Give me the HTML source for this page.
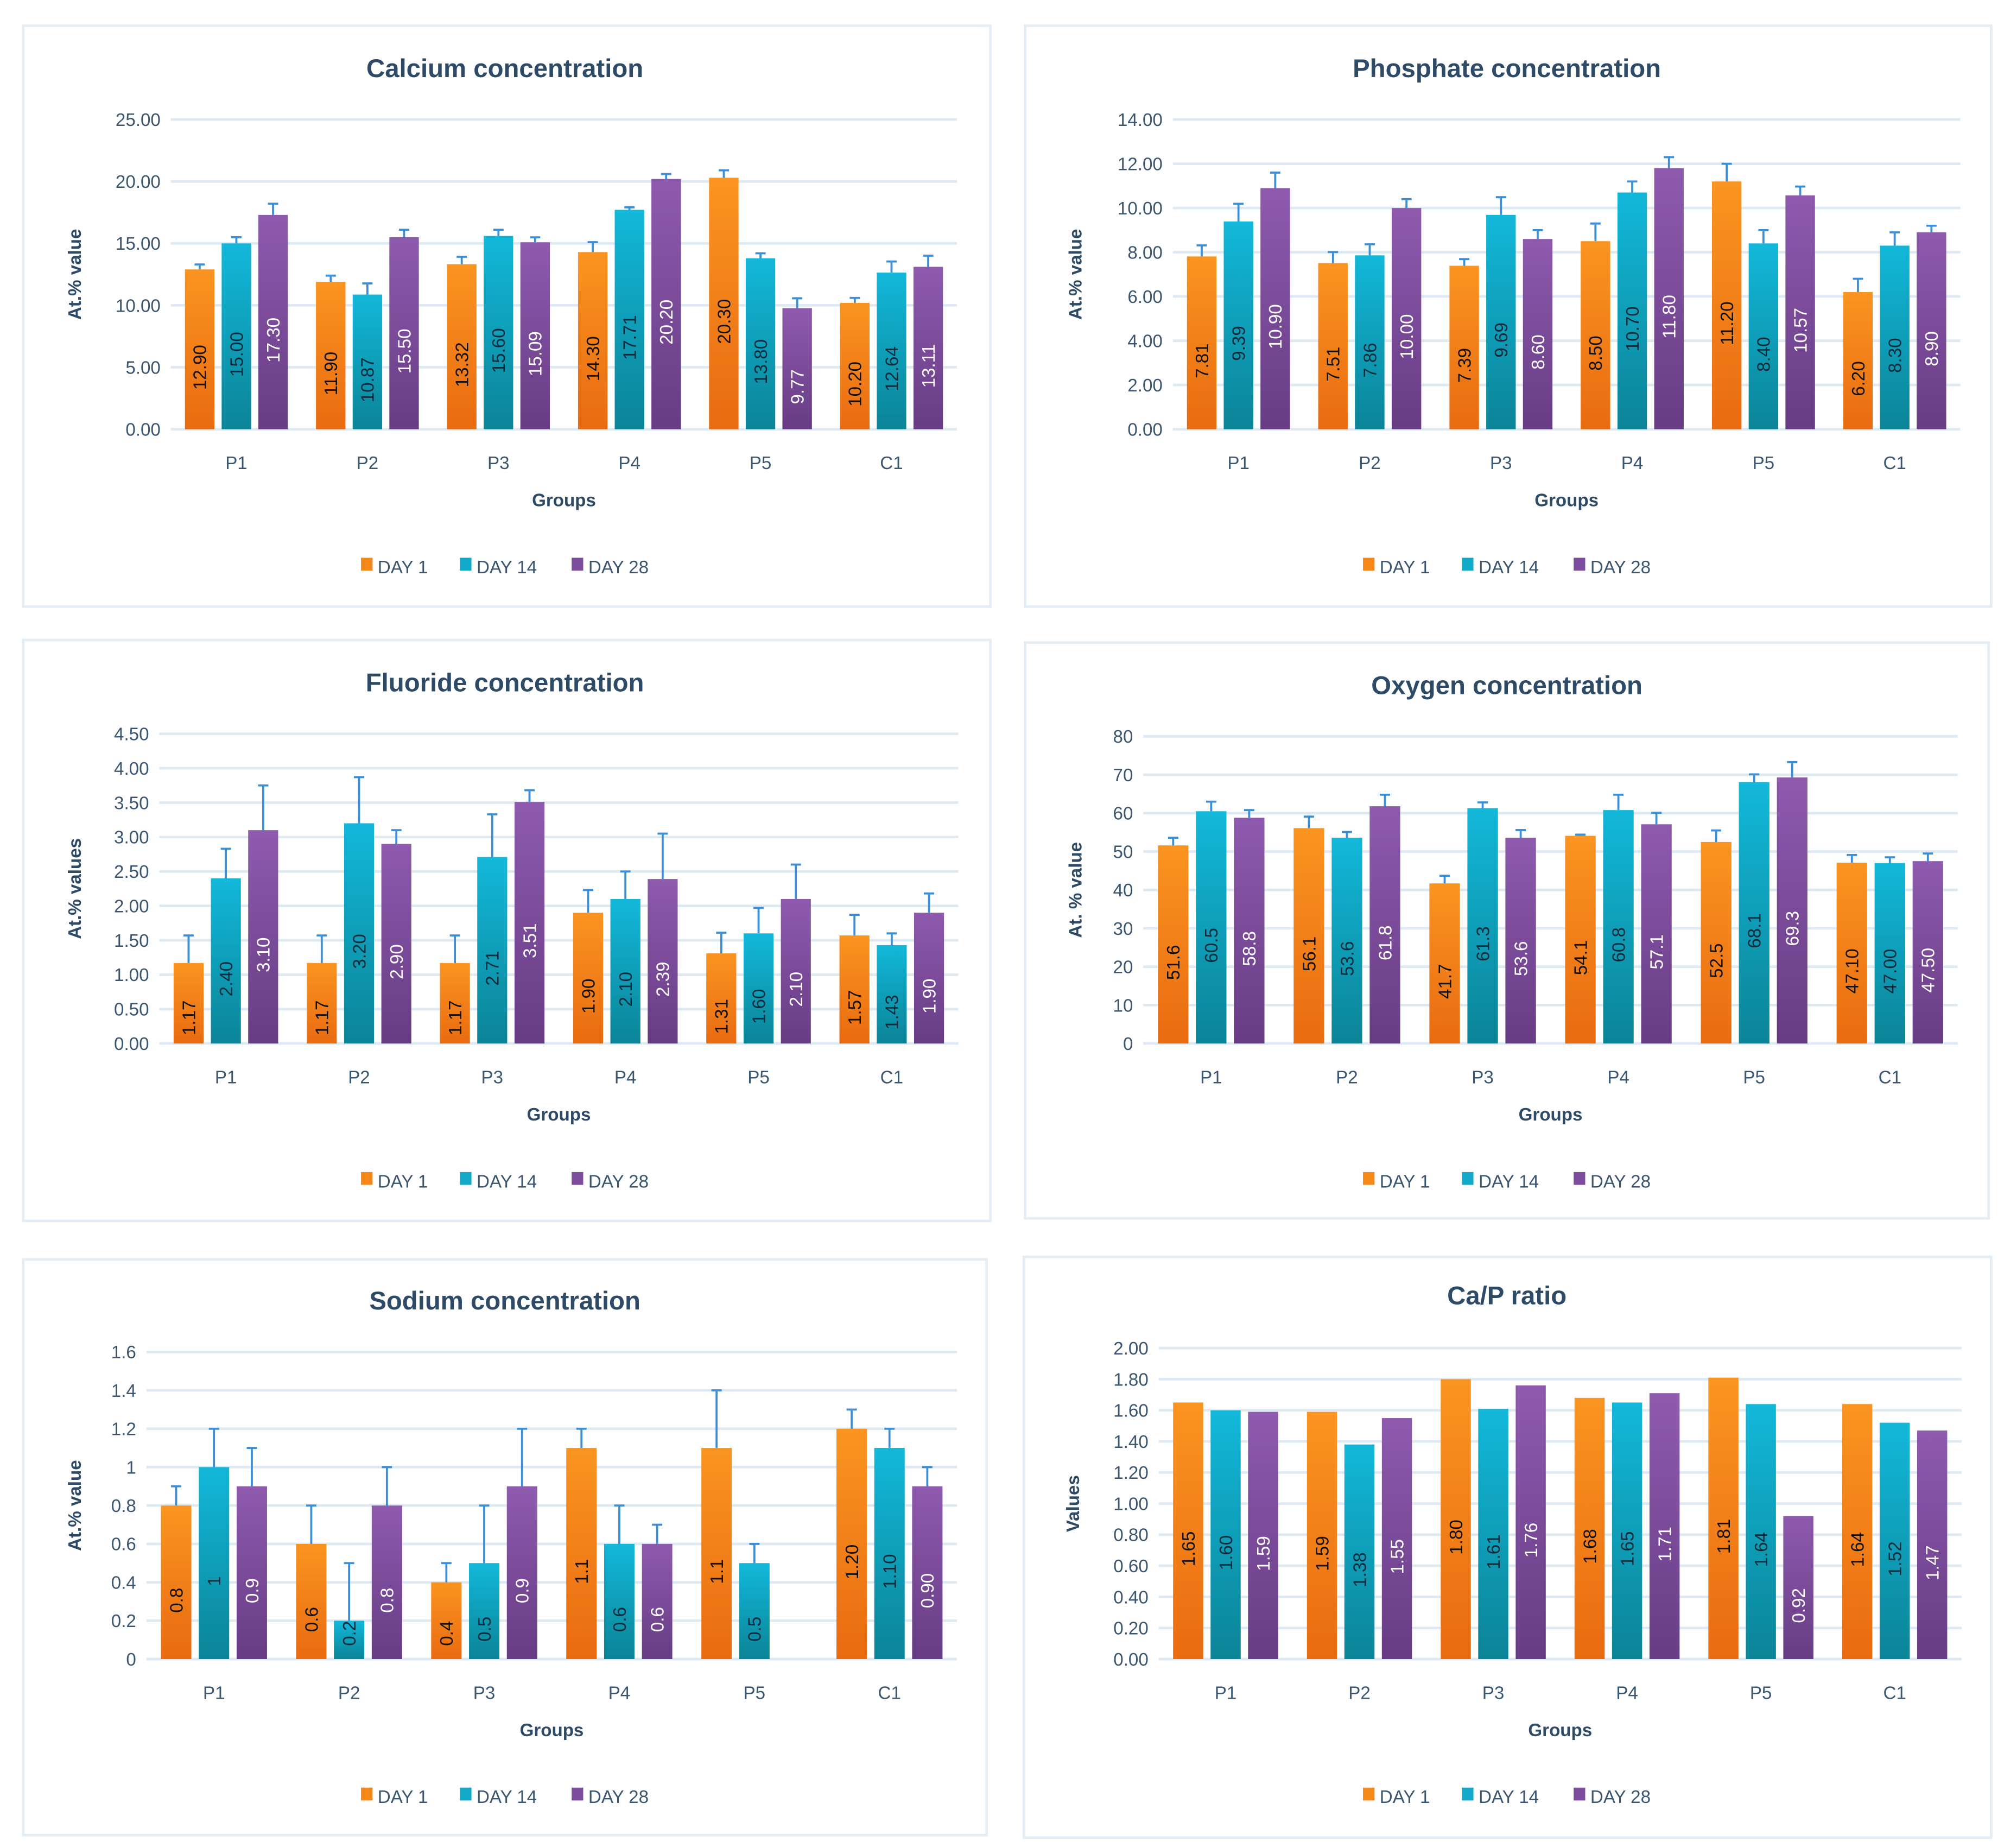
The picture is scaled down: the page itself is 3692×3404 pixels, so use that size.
<!DOCTYPE html>
<html><head><meta charset="utf-8">
<style>
html,body{margin:0;padding:0;background:#fff;}
svg{display:block;font-family:"Liberation Sans",sans-serif;}
</style></head>
<body>
<svg id="root" width="3692" height="3404" viewBox="0 0 1560 1438" preserveAspectRatio="none" xmlns="http://www.w3.org/2000/svg">
<defs>
<linearGradient id="gO" x1="0" y1="0" x2="0" y2="1"><stop offset="0" stop-color="#FA9420"/><stop offset="1" stop-color="#E96B10"/></linearGradient>
<linearGradient id="gT" x1="0" y1="0" x2="0" y2="1"><stop offset="0" stop-color="#12B8DA"/><stop offset="1" stop-color="#0B8497"/></linearGradient>
<linearGradient id="gP" x1="0" y1="0" x2="0" y2="1"><stop offset="0" stop-color="#8E5AAE"/><stop offset="1" stop-color="#673C84"/></linearGradient>
</defs>
</svg>
<script>
const categories = ["P1","P2","P3","P4","P5","C1"];
const seriesNames = ["DAY 1","DAY 14","DAY 28"];

const caD1 = [12.90,11.90,13.32,14.30,20.30,10.20];
const caD14 = [15.00,10.87,15.60,17.71,13.80,12.64];
const caD28 = [17.30,15.50,15.09,20.20,9.77,13.11];
const caE1 = [0.4,0.5,0.6,0.8,0.6,0.4];
const caE14 = [0.5,0.9,0.5,0.2,0.4,0.9];
const caE28 = [0.9,0.6,0.4,0.4,0.8,0.9];
const caTicks = ["0.00","5.00","10.00","15.00","20.00","25.00"];

const phD1 = [7.81,7.51,7.39,8.50,11.20,6.20];
const phD14 = [9.39,7.86,9.69,10.70,8.40,8.30];
const phD28 = [10.90,10.00,8.60,11.80,10.57,8.90];
const phE1 = [0.5,0.5,0.3,0.8,0.8,0.6];
const phE14 = [0.8,0.5,0.8,0.5,0.6,0.6];
const phE28 = [0.7,0.4,0.4,0.5,0.4,0.3];
const phTicks = ["0.00","2.00","4.00","6.00","8.00","10.00","12.00","14.00"];

const flD1 = [1.17,1.17,1.17,1.90,1.31,1.57];
const flD14 = [2.40,3.20,2.71,2.10,1.60,1.43];
const flD28 = [3.10,2.90,3.51,2.39,2.10,1.90];
const flE1 = [0.4,0.4,0.4,0.33,0.3,0.3];
const flE14 = [0.43,0.67,0.62,0.4,0.37,0.17];
const flE28 = [0.65,0.2,0.17,0.66,0.5,0.28];
const flTicks = ["0.00","0.50","1.00","1.50","2.00","2.50","3.00","3.50","4.00","4.50"];

const oxD1 = [51.6,56.1,41.7,54.1,52.5,47.1];
const oxD14 = [60.5,53.6,61.3,60.8,68.1,47.0];
const oxD28 = [58.8,61.8,53.6,57.1,69.3,47.5];
const oxL1 = ["51.6","56.1","41.7","54.1","52.5","47.10"];
const oxL14 = ["60.5","53.6","61.3","60.8","68.1","47.00"];
const oxL28 = ["58.8","61.8","53.6","57.1","69.3","47.50"];
const oxE1 = [2,3,2,0.3,3,2];
const oxE14 = [2.5,1.5,1.5,4,2,1.5];
const oxE28 = [2,3,2,3,4,2];
const oxTicks = ["0","10","20","30","40","50","60","70","80"];

const naD1 = [0.8,0.6,0.4,1.1,1.1,1.2];
const naD14 = [1.0,0.2,0.5,0.6,0.5,1.1];
const naD28 = [0.9,0.8,0.9,0.6,0,0.9];
const naL1 = ["0.8","0.6","0.4","1.1","1.1","1.20"];
const naL14 = ["1","0.2","0.5","0.6","0.5","1.10"];
const naL28 = ["0.9","0.8","0.9","0.6","0","0.90"];
const naE1 = [0.1,0.2,0.1,0.1,0.3,0.1];
const naE14 = [0.2,0.3,0.3,0.2,0.1,0.1];
const naE28 = [0.2,0.2,0.3,0.1,0,0.1];
const naTicks = ["0","0.2","0.4","0.6","0.8","1","1.2","1.4","1.6"];

const cpD1 = [1.65,1.59,1.80,1.68,1.81,1.64];
const cpD14 = [1.60,1.38,1.61,1.65,1.64,1.52];
const cpD28 = [1.59,1.55,1.76,1.71,0.92,1.47];
const cpTicks = ["0.00","0.20","0.40","0.60","0.80","1.00","1.20","1.40","1.60","1.80","2.00"];

const NS="http://www.w3.org/2000/svg";
const root=document.getElementById('root');
function mk(tag,attrs,parent,text){const e=document.createElementNS(NS,tag);for(const k in attrs)e.setAttribute(k,attrs[k]);if(text!==undefined)e.textContent=text;parent.appendChild(e);return e;}
const fills=["url(#gO)","url(#gT)","url(#gP)"];
const legendColors=["#F7891A","#12AAC8","#7E4C9E"];
const labelColors=["#111","#0d2b3a","#fff"];
const TXT="#3B5670";

function chart(id,L,title,yTitle,ticks,maxV,vals,labels,errs){
  const g=mk('g',{},root);
  
  
  const box=mk('rect',{x:L.bx,y:L.by,width:L.bw,height:L.bh,fill:'#fff',stroke:'#E3EDF5','stroke-width':2},g);
  
  
  const t=mk('text',{x:L.tx,y:L.ty,'text-anchor':'middle','font-size':20,'font-weight':'bold',fill:'#2D4A66'},g,title);
  
  
  const y=v=>L.y0-(v/maxV)*(L.y0-L.yTop);
  const n=categories.length;
  const sp=(L.xR-L.xL)/n;
  const xc=i=>L.xL+sp*(i+0.5);
  ticks.forEach(tk=>{
    const v=parseFloat(tk);const yy=y(v);
    const gl=mk('line',{x1:L.xL,x2:L.xR,y1:yy,y2:yy,stroke:'#DDEAF4','stroke-width':2},g);
    
    
    const tl=mk('text',{x:L.xL-8,y:yy+5,'text-anchor':'end','font-size':14,fill:TXT},g,tk);
    
    
  });
  const yt=mk('text',{x:0,y:0,transform:`translate(${L.ytx},${(L.y0+L.yTop)/2}) rotate(-90)`,'text-anchor':'middle','font-size':14,'font-weight':'bold',fill:'#2D4A66'},g,yTitle);
  
  
  const bw=sp*0.225, step=sp*0.28;
  for(let i=0;i<n;i++){
    const cl=mk('text',{x:xc(i),y:L.y0+31,'text-anchor':'middle','font-size':14,fill:TXT},g,categories[i]);
    
    
    for(let s=0;s<3;s++){
      const v=vals[s][i];
      const cx=xc(i)+(s-1)*step;
      const top=y(v);
      const b=mk('rect',{x:cx-bw/2,y:top,width:bw,height:L.y0-top,fill:fills[s]},g);
      
      
      if(errs){
        const e=errs[s][i];
        if(e>0){
          const ey=y(v+e);
          const el=mk('path',{d:`M${cx} ${top}V${ey}M${cx-4} ${ey}H${cx+4}`,stroke:'#3C8FD6','stroke-width':1.6,fill:'none'},g);
          
          
        }
      }
      const lab=labels?labels[s][i]:v.toFixed(2);
      const ly=Math.min(L.y0-20,(L.y0+top)/2+14);
      const vt=mk('text',{x:0,y:0,transform:`translate(${cx+5},${ly}) rotate(-90)`,'text-anchor':'middle','font-size':14,fill:labelColors[s]},g,lab);
      
      
    }
  }
  const gt=mk('text',{x:(L.xL+L.xR)/2,y:L.y0+60,'text-anchor':'middle','font-size':14,'font-weight':'bold',fill:'#2D4A66'},g,'Groups');
  
  
  const lx=[L.tx-112,L.tx-35,L.tx+52];
  for(let s=0;s<3;s++){
    const lg=mk('g',{},g);
    
    
    mk('rect',{x:lx[s],y:L.y0+100,width:9,height:10,fill:legendColors[s]},lg);
    mk('text',{x:lx[s]+13,y:L.y0+112,'font-size':14,fill:TXT},lg,seriesNames[s]);
  }
}

chart('calcium',{bx:18,by:20,bw:753,bh:452,tx:393,ty:60,xL:133,xR:745,y0:334,yTop:93,ytx:63},
  'Calcium concentration','At.% value',caTicks,25,[caD1,caD14,caD28],null,[caE1,caE14,caE28]);
chart('phosphate',{bx:798,by:20,bw:752,bh:452,tx:1173,ty:60,xL:913,xR:1526,y0:334,yTop:93,ytx:842},
  'Phosphate concentration','At.% value',phTicks,14,[phD1,phD14,phD28],null,[phE1,phE14,phE28]);
chart('fluoride',{bx:18,by:498,bw:753,bh:452,tx:393,ty:538,xL:124,xR:746,y0:812,yTop:571,ytx:63},
  'Fluoride concentration','At.% values',flTicks,4.5,[flD1,flD14,flD28],null,[flE1,flE14,flE28]);
chart('oxygen',{bx:798,by:500,bw:750,bh:448,tx:1173,ty:540,xL:890,xR:1524,y0:812,yTop:573,ytx:842},
  'Oxygen concentration','At. % value',oxTicks,80,[oxD1,oxD14,oxD28],[oxL1,oxL14,oxL28],[oxE1,oxE14,oxE28]);
chart('sodium',{bx:18,by:980,bw:750,bh:448,tx:393,ty:1019,xL:114,xR:745,y0:1291,yTop:1052,ytx:63},
  'Sodium concentration','At.% value',naTicks,1.6,[naD1,naD14,naD28],[naL1,naL14,naL28],[naE1,naE14,naE28]);
chart('ca-p-ratio',{bx:797,by:978,bw:753,bh:452,tx:1173,ty:1015,xL:902,xR:1527,y0:1291,yTop:1049,ytx:840},
  'Ca/P ratio','Values',cpTicks,2,[cpD1,cpD14,cpD28],null,null);
</script>
</body></html>
